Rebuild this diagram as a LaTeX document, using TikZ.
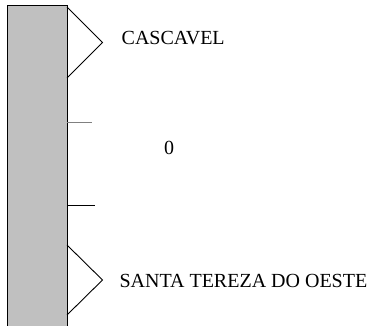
\documentclass[tikz,border=0pt]{standalone}
\usepackage{fontspec}
\setmainfont{Liberation Serif}
\definecolor{barfill}{HTML}{C0C0C0}
\definecolor{tickgray}{HTML}{808080}
\begin{document}
\begin{tikzpicture}[x=1pt,y=-1pt,
  label/.style={anchor=base west,inner sep=0pt,font=\fontsize{20}{24}\selectfont},
  edge/.style={draw=black,line width=0.9pt}]
\useasboundingbox (0,0) rectangle (381,326);
\clip (0,0) rectangle (381,326);
\fill[white] (0,0) rectangle (381,326);
\draw[edge,fill=barfill] (7,5) rectangle (67,340);
\coordinate (t1) at (67,7);
\coordinate (t2) at (102.5,42.5);
\coordinate (t3) at (67,78);
\draw[edge,line join=miter] (t1) -- (t2) -- (t3);
\coordinate (b1) at (67,245);
\coordinate (b2) at (102.5,280);
\coordinate (b3) at (67,315);
\draw[edge,line join=miter] (b1) -- (b2) -- (b3);
\coordinate (k1a) at (67,122.7);
\coordinate (k1b) at (92.3,122.7);
\draw[tickgray,line width=1.6pt] (k1a) -- (k1b);
\coordinate (k2a) at (67,205.3);
\coordinate (k2b) at (95,205.3);
\draw[black,line width=0.9pt] (k2a) -- (k2b);
\node[label] (cascavel) at (121.5,45) {CASCAVEL};
\node[label,anchor=base] (zero) at (169,155) {0};
\node[label] (santa) at (119.3,288) {SANTA TEREZA DO OESTE};
\end{tikzpicture}
\end{document}
